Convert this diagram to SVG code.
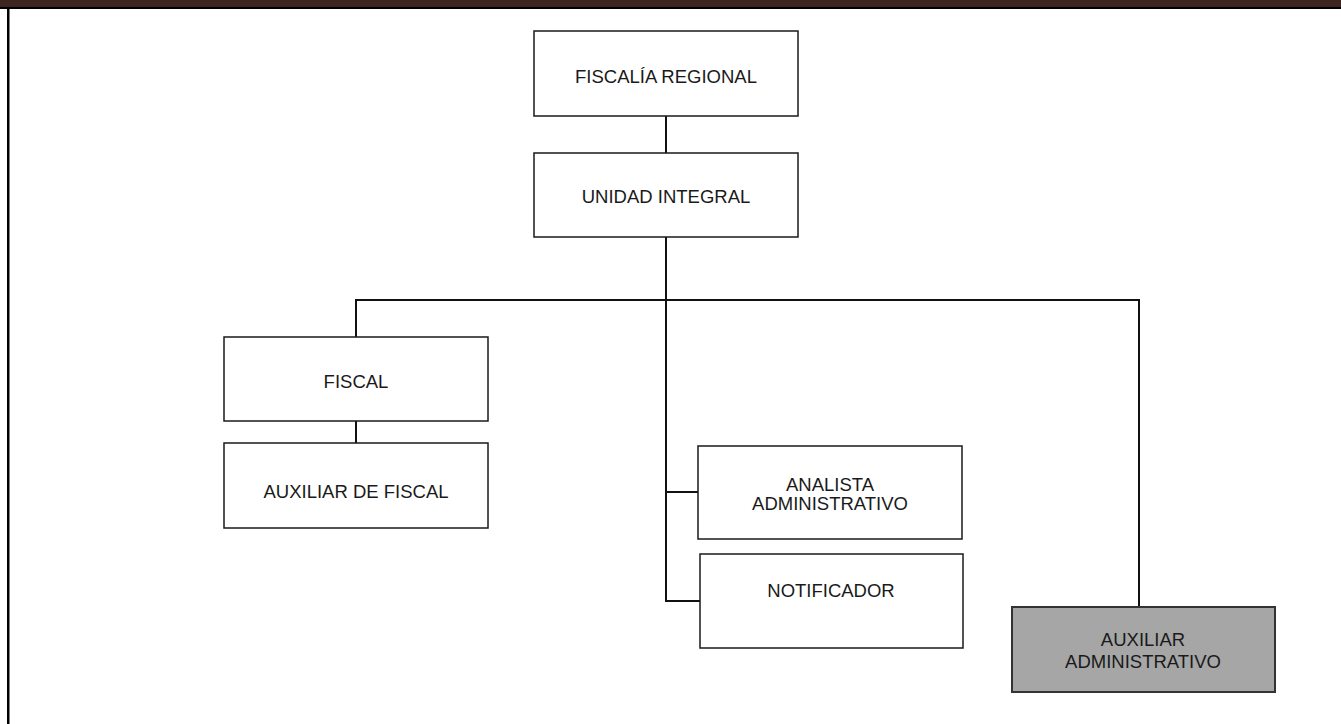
<svg xmlns="http://www.w3.org/2000/svg" width="1341" height="724" viewBox="0 0 1341 724">
<style>
.box{fill:#fff;stroke:#1a1a1a;stroke-width:1.5}
.grey{fill:#a6a6a6;stroke:#333;stroke-width:2}
.t{font-family:"Liberation Sans",Arial,sans-serif;font-size:18.5px;fill:#1a1a1a;text-anchor:middle}
.c{stroke:#111;stroke-width:2;fill:none}
</style>
<rect x="0" y="0" width="1341" height="724" fill="#fff"/>
<rect x="0" y="0" width="1341" height="7" fill="#3d2520"/>
<rect x="0" y="7" width="1341" height="2" fill="#000"/>
<rect x="7" y="7" width="2.5" height="717" fill="#000"/>
<g id="connectors">
<path class="c" d="M666 116V153"/>
<path class="c" d="M666 237V601H700"/>
<path class="c" d="M666 492H698"/>
<path class="c" d="M356 337V300H1139V607"/>
<path class="c" d="M356 421V443"/>
</g>
<g id="fiscalia-regional">
<rect class="box" x="534" y="31" width="264" height="85"/>
<text class="t" x="666" y="83">FISCALÍA REGIONAL</text>
</g>
<g id="unidad-integral">
<rect class="box" x="534" y="153" width="264" height="84"/>
<text class="t" x="666" y="203">UNIDAD INTEGRAL</text>
</g>
<g id="fiscal">
<rect class="box" x="224" y="337" width="264" height="84"/>
<text class="t" x="356" y="388">FISCAL</text>
</g>
<g id="auxiliar-fiscal">
<rect class="box" x="224" y="443" width="264" height="85"/>
<text class="t" x="356" y="498">AUXILIAR DE FISCAL</text>
</g>
<g id="analista">
<rect class="box" x="698" y="446" width="264" height="93"/>
<text class="t" x="830" y="491">ANALISTA</text>
<text class="t" x="830" y="510">ADMINISTRATIVO</text>
</g>
<g id="notificador">
<rect class="box" x="700" y="554" width="263" height="94"/>
<text class="t" x="831" y="597">NOTIFICADOR</text>
</g>
<g id="auxiliar-administrativo">
<rect class="grey" x="1012" y="607" width="263" height="85"/>
<text class="t" x="1143" y="646">AUXILIAR</text>
<text class="t" x="1143" y="668">ADMINISTRATIVO</text>
</g>
</svg>
